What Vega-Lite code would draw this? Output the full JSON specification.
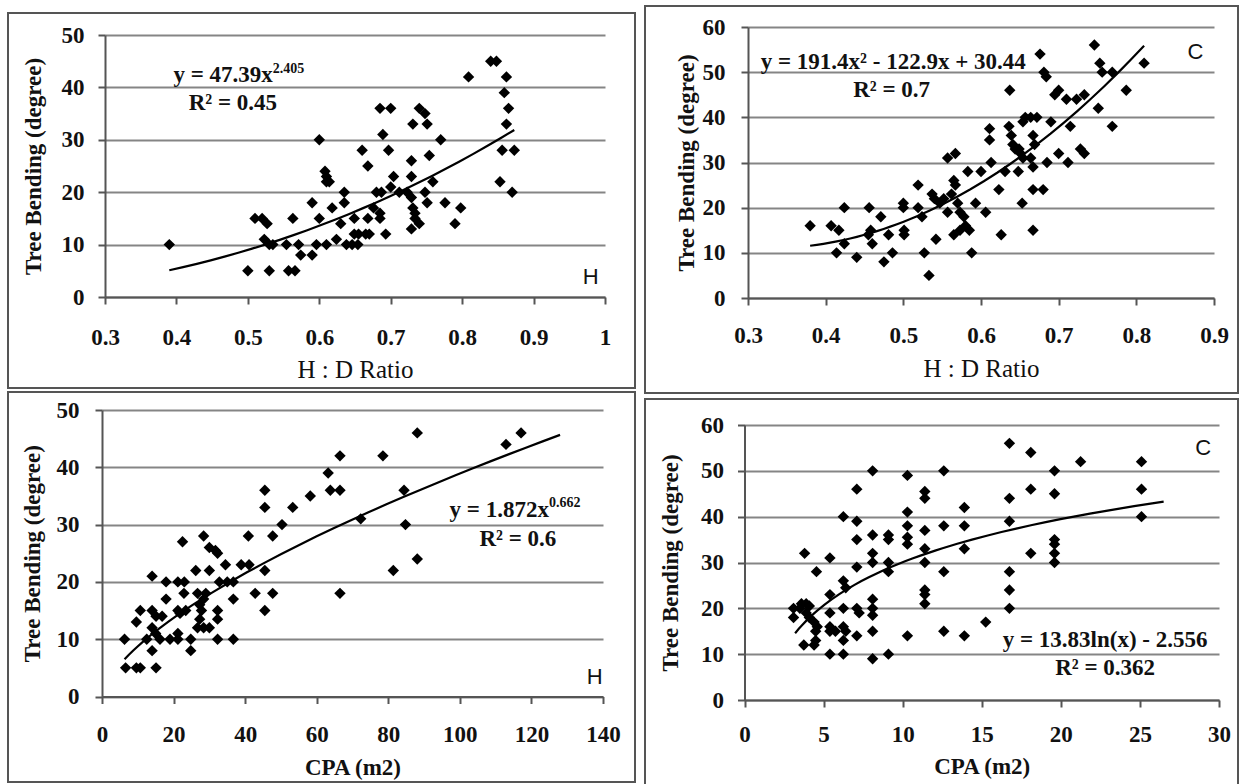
{
  "$schema": "https://vega.github.io/schema/vega-lite/v6.json",
  "padding": {"left": 7, "top": 5, "right": 0, "bottom": 0},
  "background": "white",
  "datasets": {
    "tl": [
      {"x":0.39,"y":10},{"x":0.50,"y":5},{"x":0.53,"y":5},{"x":0.557,"y":5},{"x":0.566,"y":5},{"x":0.51,"y":15},{"x":0.52,"y":15},{"x":0.527,"y":14},{"x":0.523,"y":11},{"x":0.53,"y":10},{"x":0.535,"y":10},{"x":0.563,"y":15},{"x":0.554,"y":10},{"x":0.571,"y":10},{"x":0.574,"y":8},{"x":0.59,"y":8},{"x":0.59,"y":18},{"x":0.6,"y":30},{"x":0.60,"y":15},{"x":0.596,"y":10},{"x":0.61,"y":10},{"x":0.608,"y":24},{"x":0.61,"y":23},{"x":0.61,"y":22},{"x":0.614,"y":22},{"x":0.618,"y":17},{"x":0.624,"y":11},{"x":0.635,"y":20},{"x":0.635,"y":18},{"x":0.63,"y":14},{"x":0.638,"y":10},{"x":0.646,"y":10},{"x":0.654,"y":10},{"x":0.649,"y":15},{"x":0.649,"y":12},{"x":0.655,"y":12},{"x":0.66,"y":28},{"x":0.668,"y":25},{"x":0.665,"y":12},{"x":0.67,"y":12},{"x":0.668,"y":15},{"x":0.676,"y":17},{"x":0.68,"y":20},{"x":0.685,"y":16},{"x":0.685,"y":15},{"x":0.685,"y":36},{"x":0.70,"y":36},{"x":0.689,"y":31},{"x":0.697,"y":28},{"x":0.693,"y":12},{"x":0.687,"y":20},{"x":0.704,"y":23},{"x":0.70,"y":21},{"x":0.712,"y":20},{"x":0.723,"y":20},{"x":0.729,"y":19},{"x":0.731,"y":17},{"x":0.734,"y":16},{"x":0.729,"y":26},{"x":0.729,"y":23},{"x":0.731,"y":33},{"x":0.74,"y":36},{"x":0.748,"y":35},{"x":0.751,"y":33},{"x":0.734,"y":15},{"x":0.74,"y":14},{"x":0.729,"y":13},{"x":0.748,"y":20},{"x":0.751,"y":18},{"x":0.754,"y":27},{"x":0.759,"y":22},{"x":0.77,"y":30},{"x":0.776,"y":18},{"x":0.79,"y":14},{"x":0.798,"y":17},{"x":0.809,"y":42},{"x":0.84,"y":45},{"x":0.848,"y":45},{"x":0.862,"y":42},{"x":0.859,"y":39},{"x":0.865,"y":36},{"x":0.862,"y":33},{"x":0.856,"y":28},{"x":0.873,"y":28},{"x":0.853,"y":22},{"x":0.87,"y":20}
    ],
    "tr": [
      {"x":0.38,"y":16},{"x":0.407,"y":16},{"x":0.417,"y":15},{"x":0.414,"y":10},{"x":0.424,"y":20},{"x":0.424,"y":12},{"x":0.44,"y":9},{"x":0.456,"y":20},{"x":0.458,"y":15},{"x":0.455,"y":14},{"x":0.46,"y":12},{"x":0.471,"y":18},{"x":0.475,"y":8},{"x":0.481,"y":14},{"x":0.486,"y":10},{"x":0.5,"y":21},{"x":0.5,"y":20},{"x":0.501,"y":15},{"x":0.501,"y":14},{"x":0.519,"y":25},{"x":0.519,"y":20},{"x":0.524,"y":18},{"x":0.527,"y":10},{"x":0.533,"y":5},{"x":0.537,"y":23},{"x":0.54,"y":22},{"x":0.542,"y":13},{"x":0.547,"y":21},{"x":0.552,"y":22},{"x":0.557,"y":31},{"x":0.567,"y":32},{"x":0.562,"y":23},{"x":0.567,"y":25},{"x":0.557,"y":19},{"x":0.565,"y":26},{"x":0.565,"y":14},{"x":0.573,"y":15},{"x":0.57,"y":21},{"x":0.573,"y":19},{"x":0.578,"y":18},{"x":0.58,"y":16},{"x":0.585,"y":15},{"x":0.583,"y":28},{"x":0.588,"y":10},{"x":0.593,"y":21},{"x":0.606,"y":19},{"x":0.6,"y":28},{"x":0.611,"y":37.5},{"x":0.611,"y":35},{"x":0.613,"y":30},{"x":0.623,"y":24},{"x":0.626,"y":14},{"x":0.631,"y":28},{"x":0.637,"y":46},{"x":0.636,"y":38},{"x":0.639,"y":36},{"x":0.641,"y":34},{"x":0.644,"y":33},{"x":0.649,"y":33},{"x":0.651,"y":32},{"x":0.654,"y":31},{"x":0.654,"y":39},{"x":0.657,"y":40},{"x":0.648,"y":28},{"x":0.653,"y":21},{"x":0.664,"y":40},{"x":0.672,"y":40},{"x":0.667,"y":36},{"x":0.669,"y":34},{"x":0.664,"y":31},{"x":0.667,"y":29},{"x":0.667,"y":24},{"x":0.68,"y":24},{"x":0.667,"y":15},{"x":0.676,"y":54},{"x":0.681,"y":50},{"x":0.684,"y":49},{"x":0.685,"y":30},{"x":0.69,"y":39},{"x":0.695,"y":45},{"x":0.7,"y":46},{"x":0.7,"y":32},{"x":0.71,"y":44},{"x":0.712,"y":30},{"x":0.715,"y":38},{"x":0.723,"y":44},{"x":0.728,"y":33},{"x":0.733,"y":32},{"x":0.733,"y":45},{"x":0.746,"y":56},{"x":0.751,"y":42},{"x":0.753,"y":52},{"x":0.756,"y":50},{"x":0.769,"y":50},{"x":0.769,"y":38},{"x":0.787,"y":46},{"x":0.81,"y":52}
    ],
    "bl": [
      {"x":6.3,"y":10},{"x":6.6,"y":5},{"x":9.6,"y":5},{"x":10.7,"y":5},{"x":15.1,"y":5},{"x":9.6,"y":13},{"x":10.7,"y":15},{"x":14,"y":21},{"x":14,"y":15},{"x":15.1,"y":14},{"x":14,"y":12},{"x":15,"y":11},{"x":14,"y":8},{"x":16.2,"y":10},{"x":12.5,"y":10},{"x":17.9,"y":20},{"x":17.9,"y":17},{"x":16.8,"y":14},{"x":21.2,"y":20},{"x":21.2,"y":15},{"x":21.8,"y":14.5},{"x":21.2,"y":11},{"x":21.2,"y":10},{"x":19,"y":10},{"x":22.5,"y":27},{"x":22.9,"y":18},{"x":23,"y":20},{"x":23.4,"y":15},{"x":24.8,"y":10},{"x":24.8,"y":8},{"x":26.2,"y":22},{"x":26.7,"y":18},{"x":27.3,"y":16},{"x":27.8,"y":15},{"x":27.3,"y":13.5},{"x":28.4,"y":28},{"x":28.4,"y":17},{"x":29,"y":18},{"x":26.7,"y":12},{"x":28.4,"y":12},{"x":30,"y":12},{"x":30,"y":22},{"x":30,"y":26},{"x":31.7,"y":25.5},{"x":32.3,"y":25},{"x":32.3,"y":15},{"x":32.3,"y":13.5},{"x":32.3,"y":10},{"x":32.8,"y":20},{"x":34.5,"y":23},{"x":35,"y":20},{"x":36.7,"y":20},{"x":36.7,"y":17},{"x":36.7,"y":10},{"x":38.9,"y":23},{"x":41.1,"y":23},{"x":40.9,"y":28},{"x":42.8,"y":18},{"x":45.5,"y":36},{"x":45.5,"y":33},{"x":45.5,"y":22},{"x":45.5,"y":15},{"x":47.7,"y":28},{"x":47.7,"y":18},{"x":50.3,"y":30},{"x":53.3,"y":33},{"x":58.2,"y":35},{"x":63.2,"y":39},{"x":63.8,"y":36},{"x":66.5,"y":36},{"x":66.5,"y":42},{"x":66.5,"y":18},{"x":72.3,"y":31},{"x":78.5,"y":42},{"x":81.4,"y":22},{"x":84.4,"y":36},{"x":84.8,"y":30},{"x":88.1,"y":46},{"x":88.1,"y":24},{"x":112.9,"y":44},{"x":117.1,"y":46}
    ],
    "br": [
      {"x":3.8,"y":32},{"x":3.1,"y":20},{"x":3.1,"y":18},{"x":3.5,"y":20},{"x":3.6,"y":21},{"x":3.9,"y":21},{"x":4.1,"y":20.5},{"x":3.9,"y":19},{"x":4.1,"y":18},{"x":3.75,"y":12},{"x":4.4,"y":12},{"x":4.5,"y":13},{"x":4.5,"y":15},{"x":4.6,"y":16},{"x":4.4,"y":17},{"x":4.55,"y":28},{"x":5.4,"y":31},{"x":5.4,"y":23},{"x":5.4,"y":19},{"x":5.4,"y":16},{"x":5.4,"y":15},{"x":5.75,"y":15},{"x":5.4,"y":10},{"x":6.25,"y":40},{"x":6.25,"y":26},{"x":6.4,"y":24.5},{"x":6.25,"y":20},{"x":6.25,"y":16},{"x":6.4,"y":15},{"x":6.25,"y":13},{"x":6.25,"y":10},{"x":7.1,"y":46},{"x":7.1,"y":39},{"x":7.1,"y":35},{"x":7.1,"y":29},{"x":7.1,"y":20},{"x":7.25,"y":19},{"x":7.1,"y":14},{"x":8.1,"y":50},{"x":8.1,"y":36},{"x":8.1,"y":32},{"x":8.1,"y":30},{"x":8.1,"y":22},{"x":8.1,"y":20},{"x":8.1,"y":18.5},{"x":8.1,"y":15},{"x":8.1,"y":9},{"x":9.1,"y":36},{"x":9.1,"y":35},{"x":9.1,"y":30},{"x":9.1,"y":28},{"x":9.1,"y":10},{"x":10.3,"y":49},{"x":10.3,"y":41},{"x":10.3,"y":38},{"x":10.3,"y":35.5},{"x":10.3,"y":34},{"x":10.3,"y":14},{"x":11.4,"y":45.5},{"x":11.4,"y":44},{"x":11.4,"y":37},{"x":11.4,"y":33},{"x":11.4,"y":30},{"x":11.4,"y":24},{"x":11.4,"y":23},{"x":11.4,"y":21},{"x":12.6,"y":50},{"x":12.6,"y":38},{"x":12.6,"y":28},{"x":12.6,"y":15},{"x":13.9,"y":42},{"x":13.9,"y":38},{"x":13.9,"y":33},{"x":13.9,"y":14},{"x":15.25,"y":17},{"x":16.75,"y":56},{"x":16.75,"y":44},{"x":16.75,"y":39},{"x":16.75,"y":28},{"x":16.75,"y":24},{"x":16.75,"y":20},{"x":18.1,"y":54},{"x":18.1,"y":46},{"x":18.1,"y":32},{"x":19.6,"y":50},{"x":19.6,"y":45},{"x":19.6,"y":35},{"x":19.6,"y":34},{"x":19.6,"y":32},{"x":19.6,"y":30},{"x":21.25,"y":52},{"x":25.1,"y":52},{"x":25.1,"y":46},{"x":25.1,"y":40}
    ]
  },
  "hconcat": [
    {
      "vconcat": [
        {
          "width": 627, "height": 375,
          "data": {"name": "tl"},
          "layer": [
            {
              "mark": {"type": "point", "shape": "diamond", "filled": true, "size": 130, "color": "#000", "opacity": 1},
              "encoding": {
                "x": {"field": "x", "type": "quantitative", "scale": {"domain": [0.3, 1], "range": [97, 597], "zero": false, "nice": false},
                      "axis": {"title": "H : D Ratio", "titleFont": "Liberation Serif", "titleFontWeight": 500, "titleFontSize": 25, "labelFont": "Liberation Serif", "labelFontWeight": "bold", "values": [0.3,0.4,0.5,0.6,0.7,0.8,0.9,1], "format": ".1~f", "offset": -91, "grid": false, "labelPadding": 22, "titlePadding": 8}},
                "y": {"field": "y", "type": "quantitative", "scale": {"domain": [0, 50], "range": [284, 22], "nice": false},
                      "axis": {"title": "Tree Bending (degree)", "titleFont": "Liberation Serif", "labelFont": "Liberation Serif", "labelFontWeight": "bold", "values": [0,10,20,30,40,50], "offset": -97, "grid": true, "labelPadding": 14, "titlePadding": 16}}
              }
            },
            {
              "transform": [{"regression": "y", "on": "x", "method": "pow"}],
              "mark": {"type": "line", "color": "#000", "strokeWidth": 2.2},
              "encoding": {"x": {"field": "x", "type": "quantitative"}, "y": {"field": "y", "type": "quantitative"}}
            },
            {
              "data": {"values": [{"t": "y = 47.39x"}]},
              "mark": {"type": "text", "align": "right", "baseline": "middle", "font": "Liberation Serif", "fontSize": 23, "fontWeight": "bold", "color": "#111"},
              "encoding": {"x": {"datum": 0.535, "type": "quantitative"}, "y": {"datum": 42.3, "type": "quantitative"}, "text": {"field": "t"}}
            },
            {
              "data": {"values": [{"t": "2.405"}]},
              "mark": {"type": "text", "align": "left", "baseline": "middle", "font": "Liberation Serif", "fontSize": 14, "fontWeight": "bold", "color": "#111"},
              "encoding": {"x": {"datum": 0.535, "type": "quantitative"}, "y": {"datum": 43.5, "type": "quantitative"}, "text": {"field": "t"}}
            },
            {
              "data": {"values": [{"t": "R² = 0.45"}]},
              "mark": {"type": "text", "align": "center", "baseline": "middle", "font": "Liberation Serif", "fontSize": 23, "fontWeight": "bold", "color": "#111"},
              "encoding": {"x": {"datum": 0.479, "type": "quantitative"}, "y": {"datum": 37.0, "type": "quantitative"}, "text": {"field": "t"}}
            },
            {
              "data": {"values": [{"t": "H"}]},
              "mark": {"type": "text", "align": "center", "baseline": "middle", "font": "Liberation Sans", "fontSize": 22, "color": "#111"},
              "encoding": {"x": {"datum": 0.98, "type": "quantitative"}, "y": {"datum": 3.8, "type": "quantitative"}, "text": {"field": "t"}}
            }
          ]
        },
        {
          "width": 627, "height": 390,
          "data": {"name": "bl"},
          "layer": [
            {
              "mark": {"type": "point", "shape": "diamond", "filled": true, "size": 130, "color": "#000", "opacity": 1},
              "encoding": {
                "x": {"field": "x", "type": "quantitative", "scale": {"domain": [0, 140], "range": [94, 595], "nice": false},
                      "axis": {"title": "CPA (m2)", "titleFont": "Liberation Serif", "labelFont": "Liberation Serif", "labelFontWeight": "bold", "values": [0,20,40,60,80,100,120,140], "offset": -85.5, "grid": false, "labelPadding": 20, "titlePadding": 10}},
                "y": {"field": "y", "type": "quantitative", "scale": {"domain": [0, 50], "range": [304.5, 18], "nice": false},
                      "axis": {"title": "Tree Bending (degree)", "titleFont": "Liberation Serif", "labelFont": "Liberation Serif", "labelFontWeight": "bold", "values": [0,10,20,30,40,50], "offset": -94, "grid": true, "labelPadding": 16, "titlePadding": 12}}
              }
            },
            {
              "transform": [{"regression": "y", "on": "x", "method": "pow", "extent": [6.3, 128]}],
              "mark": {"type": "line", "color": "#000", "strokeWidth": 2.2},
              "encoding": {"x": {"field": "x", "type": "quantitative"}, "y": {"field": "y", "type": "quantitative"}}
            },
            {
              "data": {"values": [{"t": "y = 1.872x"}]},
              "mark": {"type": "text", "align": "right", "baseline": "middle", "font": "Liberation Serif", "fontSize": 23, "fontWeight": "bold", "color": "#111"},
              "encoding": {"x": {"datum": 124.9, "type": "quantitative"}, "y": {"datum": 32.5, "type": "quantitative"}, "text": {"field": "t"}}
            },
            {
              "data": {"values": [{"t": "0.662"}]},
              "mark": {"type": "text", "align": "left", "baseline": "middle", "font": "Liberation Serif", "fontSize": 14, "fontWeight": "bold", "color": "#111"},
              "encoding": {"x": {"datum": 124.9, "type": "quantitative"}, "y": {"datum": 33.8, "type": "quantitative"}, "text": {"field": "t"}}
            },
            {
              "data": {"values": [{"t": "R² = 0.6"}]},
              "mark": {"type": "text", "align": "center", "baseline": "middle", "font": "Liberation Serif", "fontSize": 23, "fontWeight": "bold", "color": "#111"},
              "encoding": {"x": {"datum": 116.2, "type": "quantitative"}, "y": {"datum": 27.5, "type": "quantitative"}, "text": {"field": "t"}}
            },
            {
              "data": {"values": [{"t": "H"}]},
              "mark": {"type": "text", "align": "center", "baseline": "middle", "font": "Liberation Sans", "fontSize": 22, "color": "#111"},
              "encoding": {"x": {"datum": 137.7, "type": "quantitative"}, "y": {"datum": 3.4, "type": "quantitative"}, "text": {"field": "t"}}
            }
          ]
        }
      ],
      "spacing": 4,
      "bounds": "flush"
    },
    {
      "vconcat": [
        {
          "width": 593, "height": 387,
          "data": {"name": "tr"},
          "layer": [
            {
              "mark": {"type": "point", "shape": "diamond", "filled": true, "size": 130, "color": "#000", "opacity": 1},
              "encoding": {
                "x": {"field": "x", "type": "quantitative", "scale": {"domain": [0.3, 0.9], "range": [103, 569], "zero": false, "nice": false},
                      "axis": {"title": "H : D Ratio", "titleFont": "Liberation Serif", "titleFontWeight": 500, "titleFontSize": 25, "labelFont": "Liberation Serif", "labelFontWeight": "bold", "values": [0.3,0.4,0.5,0.6,0.7,0.8,0.9], "format": ".1~f", "offset": -95, "grid": false, "labelPadding": 19, "titlePadding": 9}},
                "y": {"field": "y", "type": "quantitative", "scale": {"domain": [0, 60], "range": [292, 21], "nice": false},
                      "axis": {"title": "Tree Bending (degree)", "titleFont": "Liberation Serif", "labelFont": "Liberation Serif", "labelFontWeight": "bold", "values": [0,10,20,30,40,50,60], "offset": -103, "grid": true, "labelPadding": 16, "titlePadding": 4}}
              }
            },
            {
              "transform": [{"regression": "y", "on": "x", "method": "quad"}],
              "mark": {"type": "line", "color": "#000", "strokeWidth": 2.2},
              "encoding": {"x": {"field": "x", "type": "quantitative"}, "y": {"field": "y", "type": "quantitative"}}
            },
            {
              "data": {"values": [{"t": "y = 191.4x² - 122.9x + 30.44"}]},
              "mark": {"type": "text", "align": "center", "baseline": "middle", "font": "Liberation Serif", "fontSize": 23, "fontWeight": "bold", "color": "#111"},
              "encoding": {"x": {"datum": 0.487, "type": "quantitative"}, "y": {"datum": 52.2, "type": "quantitative"}, "text": {"field": "t"}}
            },
            {
              "data": {"values": [{"t": "R² = 0.7"}]},
              "mark": {"type": "text", "align": "center", "baseline": "middle", "font": "Liberation Serif", "fontSize": 23, "fontWeight": "bold", "color": "#111"},
              "encoding": {"x": {"datum": 0.485, "type": "quantitative"}, "y": {"datum": 46.0, "type": "quantitative"}, "text": {"field": "t"}}
            },
            {
              "data": {"values": [{"t": "C"}]},
              "mark": {"type": "text", "align": "center", "baseline": "middle", "font": "Liberation Sans", "fontSize": 22, "color": "#111"},
              "encoding": {"x": {"datum": 0.876, "type": "quantitative"}, "y": {"datum": 54.5, "type": "quantitative"}, "text": {"field": "t"}}
            }
          ]
        },
        {
          "width": 593, "height": 390,
          "data": {"name": "br"},
          "layer": [
            {
              "mark": {"type": "point", "shape": "diamond", "filled": true, "size": 130, "color": "#000", "opacity": 1},
              "encoding": {
                "x": {"field": "x", "type": "quantitative", "scale": {"domain": [0, 30], "range": [99.5, 574], "nice": false},
                      "axis": {"title": "CPA (m2)", "titleFont": "Liberation Serif", "labelFont": "Liberation Serif", "labelFontWeight": "bold", "values": [0,5,10,15,20,25,30], "offset": -89, "grid": false, "labelPadding": 16, "titlePadding": 9}},
                "y": {"field": "y", "type": "quantitative", "scale": {"domain": [0, 60], "range": [301, 26], "nice": false},
                      "axis": {"title": "Tree Bending (degree)", "titleFont": "Liberation Serif", "labelFont": "Liberation Serif", "labelFontWeight": "bold", "values": [0,10,20,30,40,50,60], "offset": -99.5, "grid": true, "labelPadding": 14, "titlePadding": 18}}
              }
            },
            {
              "transform": [{"regression": "y", "on": "x", "method": "log", "extent": [3.2, 26.5]}],
              "mark": {"type": "line", "color": "#000", "strokeWidth": 2.2},
              "encoding": {"x": {"field": "x", "type": "quantitative"}, "y": {"field": "y", "type": "quantitative"}}
            },
            {
              "data": {"values": [{"t": "y = 13.83ln(x) - 2.556"}]},
              "mark": {"type": "text", "align": "center", "baseline": "middle", "font": "Liberation Serif", "fontSize": 23, "fontWeight": "bold", "color": "#111"},
              "encoding": {"x": {"datum": 22.8, "type": "quantitative"}, "y": {"datum": 13.2, "type": "quantitative"}, "text": {"field": "t"}}
            },
            {
              "data": {"values": [{"t": "R² = 0.362"}]},
              "mark": {"type": "text", "align": "center", "baseline": "middle", "font": "Liberation Serif", "fontSize": 23, "fontWeight": "bold", "color": "#111"},
              "encoding": {"x": {"datum": 22.8, "type": "quantitative"}, "y": {"datum": 7.0, "type": "quantitative"}, "text": {"field": "t"}}
            },
            {
              "data": {"values": [{"t": "C"}]},
              "mark": {"type": "text", "align": "center", "baseline": "middle", "font": "Liberation Sans", "fontSize": 22, "color": "#111"},
              "encoding": {"x": {"datum": 29.0, "type": "quantitative"}, "y": {"datum": 54.9, "type": "quantitative"}, "text": {"field": "t"}}
            }
          ]
        }
      ],
      "spacing": 6,
      "bounds": "flush"
    }
  ],
  "spacing": 8,
  "center": true,
  "config": {
    "font": "Liberation Serif",
    "view": {"stroke": "#555", "strokeWidth": 2},
    "axis": {
      "labelFont": "Liberation Serif", "labelFontSize": 23, "labelFontWeight": "bold", "labelColor": "#111",
      "titleFont": "Liberation Serif", "titleFontSize": 23, "titleFontWeight": "bold", "titleColor": "#111",
      "domainColor": "#555", "domainWidth": 2, "tickColor": "#555", "tickWidth": 2, "tickSize": 7,
      "gridColor": "#858585", "gridWidth": 2, "labelOverlap": false, "labelFlush": false
    }
  }
}
